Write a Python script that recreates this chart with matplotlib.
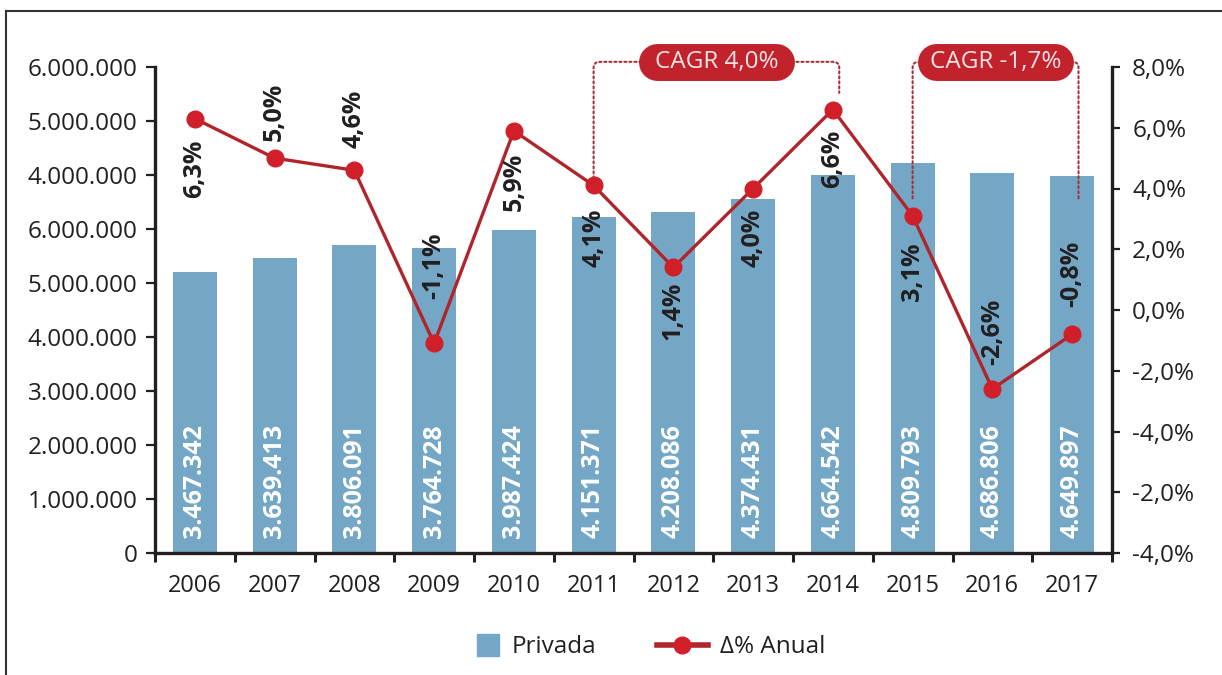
import matplotlib.pyplot as plt
from matplotlib.lines import Line2D
from matplotlib.patches import FancyArrowPatch
import numpy as np

plt.rcParams['font.family'] = ['Open Sans', 'DejaVu Sans']

# Dados: matrículas na rede privada e variação anual
anos = ['2006', '2007', '2008', '2009', '2010', '2011',
        '2012', '2013', '2014', '2015', '2016', '2017']
privada = [3467342, 3639413, 3806091, 3764728, 3987424, 4151371,
           4208086, 4374431, 4664542, 4809793, 4686806, 4649897]
variacao = [6.3, 5.0, 4.6, -1.1, 5.9, 4.1, 1.4, 4.0, 6.6, 3.1, -2.6, -0.8]

# Rótulos dos eixos
rotulos_esq = ['0', '1.000.000', '2.000.000', '3.000.000', '4.000.000',
               '5.000.000', '6.000.000', '4.000.000', '5.000.000', '6.000.000']
rotulos_dir = ['-4,0%', '-2,0%', '-4,0%', '-2,0%', '0,0%',
               '2,0%', '4,0%', '6,0%', '8,0%']

# CAGR por período (texto, ano inicial, ano final)
cagr_textos = ['CAGR 4,0%', 'CAGR -1,7%']
cagr_periodos = [('2011', '2014'), ('2015', '2017')]

# Layout: deslocamento (px) dos rótulos de % em relação ao ponto (negativo = abaixo)
desloc_pct = [-21, 17, 22, 44, -22, -23, -14, -20, -20, -27, 24, 27]
# altura (em %) onde terminam as linhas pontilhadas do CAGR
fim_chaves = [(4.35, 7.15), (3.6, 3.6)]
ajuste_x_fim = [(0.0, 0.08), (0.0, 0.08)]

azul = '#74a7c5'
vermelho_linha = '#b0252c'
vermelho_ponto = '#d11f2a'
vermelho_caixa = '#c1222b'
preto = '#231f20'

fig = plt.figure(figsize=(12.22, 6.75), dpi=100)
ax = fig.add_axes([155 / 1222, 1 - 553 / 675, (1112 - 155) / 1222, (553 - 67) / 675])
ax2 = ax.twinx()

x = np.arange(len(anos))

# Barras
ax.bar(x, privada, width=0.55, color=azul, zorder=2)
for xi, v in zip(x, privada):
    ax.text(xi, 0.19e6, f'{v:,}'.replace(',', '.'), rotation=90,
            ha='center', va='bottom', color='white', fontsize=18,
            fontweight='bold', zorder=3)

ax.set_xlim(-0.5, len(anos) - 0.5)
ax.set_ylim(0, 6e6)
ax.set_yticks(np.linspace(0, 6e6, len(rotulos_esq)))
ax.set_yticklabels(rotulos_esq)
ax.set_xticks(x)
ax.set_xticklabels(anos)
ax.set_xticks(np.arange(-0.5, len(anos)), minor=True)
ax.tick_params(axis='x', which='major', length=0, pad=15, labelsize=17, labelcolor=preto)
ax.tick_params(axis='x', which='minor', length=6.5, width=2.2, color=preto, direction='out')
ax.tick_params(axis='y', length=6.5, width=1.6, color=preto, pad=6,
               labelsize=17.5, labelcolor=preto)

for lado in ['top', 'right']:
    ax.spines[lado].set_visible(False)
for lado in ['left', 'bottom']:
    ax.spines[lado].set_linewidth(2.4)
    ax.spines[lado].set_color(preto)

# Linha de variação anual
ax2.plot(x, variacao, color=vermelho_linha, lw=2.4, marker='o', markersize=12,
         markerfacecolor=vermelho_ponto, markeredgecolor=vermelho_ponto, zorder=4)
for xi, v, d in zip(x, variacao, desloc_pct):
    ax2.annotate(f'{v:.1f}%'.replace('.', ','), (xi, v), xytext=(0, d),
                 textcoords='offset pixels', rotation=90, ha='center',
                 va='bottom' if d > 0 else 'top', fontsize=18,
                 fontweight='bold', color=preto, zorder=5)

# Chaves pontilhadas e caixas de CAGR
y_topo = 8.17
for texto, (a0, a1), (f0, f1), (dx0, dx1) in zip(cagr_textos, cagr_periodos,
                                                  fim_chaves, ajuste_x_fim):
    x0 = anos.index(a0) + dx0
    x1 = anos.index(a1) + dx1
    xc = (x0 + x1) / 2
    for xe, ye in [(x0, f0), (x1, f1)]:
        chave = FancyArrowPatch((xc, y_topo), (xe, ye), arrowstyle='-',
                                connectionstyle='angle,angleA=0,angleB=90,rad=6',
                                linestyle=(0, (1, 1.4)), linewidth=1.5,
                                color='#a8323a', shrinkA=0, shrinkB=0,
                                transform=ax2.transData, clip_on=False, zorder=6)
        ax2.add_artist(chave)
    caixa = Line2D([xc - 0.745, xc + 0.745], [y_topo, y_topo], lw=26.6,
                   color=vermelho_caixa, solid_capstyle='round',
                   transform=ax2.transData, clip_on=False, zorder=7)
    ax2.add_artist(caixa)
    ax2.text(xc, y_topo, texto, ha='center', va='center', fontsize=17.5,
             color='#f8e6e6', zorder=8, clip_on=False)

ax2.set_ylim(-8, 8)
ax2.set_yticks(np.arange(-8, 9, 2))
ax2.set_yticklabels(rotulos_dir)
ax2.tick_params(axis='y', length=5.5, width=1.6, color=preto, pad=9,
                labelsize=17.5, labelcolor=preto)
for lado in ['top', 'left', 'bottom']:
    ax2.spines[lado].set_visible(False)
ax2.spines['right'].set_linewidth(2.4)
ax2.spines['right'].set_color(preto)

# Legenda (uma entrada por legenda para ajustar o tamanho de cada símbolo)
h_barra = Line2D([], [], marker='s', linestyle='none', markersize=16,
                 color=azul, label='Privada')
h_linha = Line2D([], [], color=vermelho_linha, lw=4, marker='o', markersize=12,
                 markerfacecolor=vermelho_ponto, markeredgecolor=vermelho_ponto,
                 label='Δ% Anual')
fig.legend(handles=[h_barra], loc='center', bbox_to_anchor=(0.4386, 0.041),
           frameon=False, fontsize=17.5, handlelength=1.0, handletextpad=0.5,
           labelcolor=preto)
fig.legend(handles=[h_linha], loc='center', bbox_to_anchor=(0.6064, 0.041),
           frameon=False, fontsize=17.5, handlelength=2.1, handletextpad=0.5,
           labelcolor=preto)

# Moldura
fig.add_artist(Line2D([6 / 1222, 6 / 1222], [0, 1 - 11 / 675], color='#333333', lw=1.5))
fig.add_artist(Line2D([6 / 1222, 1], [1 - 11 / 675, 1 - 11 / 675], color='#333333', lw=1.5))

fig.savefig('out.png', dpi=100)
